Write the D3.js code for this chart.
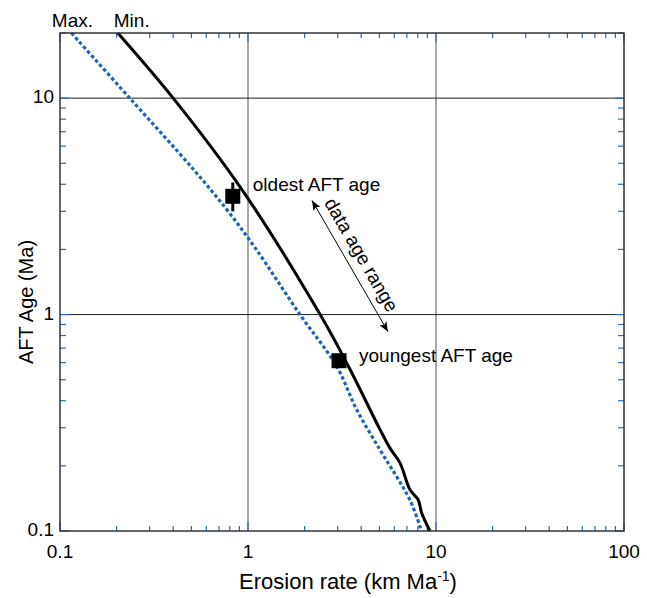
<!DOCTYPE html>
<html>
<head>
<meta charset="utf-8">
<script src="https://cdn.jsdelivr.net/npm/d3@7"></script>
<style>
  body { margin: 0; background: #fff; }
  svg { display: block; font-family: "Liberation Sans", Arial, sans-serif; }
</style>
</head>
<body>
<div id="chart"></div>
<script>
// Min. curve (solid black)
const minRate = [0.203, 0.4, 0.926, 2.42, 3.42, 5.04, 5.69, 6.44, 7.27, 8.05, 8.39, 9.29];
const minAge  = [20, 10, 3.79, 1, 0.577, 0.294, 0.2415, 0.206, 0.155, 0.139, 0.121, 0.1];

// Max. curve (dotted blue)
const maxRate = [0.115, 0.235, 0.512, 0.77, 1.089, 1.89, 2.96, 3.79, 5.04, 6.18, 7.27, 8.22, 8.32];
const maxAge  = [20, 10, 4.69, 3.06, 2.04, 1, 0.577, 0.363, 0.237, 0.178, 0.139, 0.1047, 0.1];

// AFT samples
const sampleNames = ['oldest AFT age', 'youngest AFT age'];
const sampleRate  = [0.83, 3.05];
const sampleAge   = [3.52, 0.612];
const sampleErrLo = [3.0, null];
const sampleErrHi = [4.08, null];

// "data age range" arrow ends
const arrowRate = [2.19, 5.55];
const arrowAge  = [3.37, 0.834];

const xTickValues = [0.1, 1, 10, 100];
const yTickValues = [0.1, 1, 10];
const gridX = [1, 10];
const gridY = [1, 10];

const W = 647, H = 598;
const margin = { top: 33, right: 23, bottom: 67, left: 60 };
const TICK_COLOR = '#2a6db8';
const BLUE = '#1e64b4';

const svg = d3.select('#chart').append('svg')
  .attr('width', W).attr('height', H);

const x = d3.scaleLog().domain([0.1, 100]).range([margin.left, W - margin.right]);
const y = d3.scaleLog().domain([0.1, 20]).range([H - margin.bottom, margin.top]);

const x0 = x.range()[0], x1 = x.range()[1];
const y0 = y.range()[0], y1 = y.range()[1];

// grid lines
svg.append('g').selectAll('line').data(gridX).join('line')
  .attr('x1', d => x(d)).attr('x2', d => x(d))
  .attr('y1', y0).attr('y2', y1)
  .attr('stroke', '#555').attr('stroke-width', 1);
svg.append('g').selectAll('line').data(gridY).join('line')
  .attr('x1', x0).attr('x2', x1)
  .attr('y1', d => y(d)).attr('y2', d => y(d))
  .attr('stroke', '#222').attr('stroke-width', 1);

// ticks, inward on all four sides
const xTicks = x.ticks();
const yTicks = y.ticks();
const isMajor = v => Math.abs(Math.log10(v) - Math.round(Math.log10(v))) < 1e-6;

const tickG = svg.append('g').attr('stroke', TICK_COLOR).attr('stroke-width', 1.2);
xTicks.forEach(v => {
  const len = isMajor(v) ? 9 : 5;
  tickG.append('line').attr('x1', x(v)).attr('x2', x(v)).attr('y1', y0).attr('y2', y0 - len);
  tickG.append('line').attr('x1', x(v)).attr('x2', x(v)).attr('y1', y1).attr('y2', y1 + len);
});
yTicks.forEach(v => {
  const len = isMajor(v) ? 9 : 6;
  tickG.append('line').attr('y1', y(v)).attr('y2', y(v)).attr('x1', x0).attr('x2', x0 + len);
  tickG.append('line').attr('y1', y(v)).attr('y2', y(v)).attr('x1', x1).attr('x2', x1 - len);
});

const line = d3.line().x(d => x(d[0])).y(d => y(d[1])).curve(d3.curveCatmullRom.alpha(0.5));

// Max. curve
svg.append('path')
  .datum(d3.zip(maxRate, maxAge))
  .attr('fill', 'none')
  .attr('stroke', BLUE)
  .attr('stroke-width', 3.2)
  .attr('stroke-dasharray', '3.5,2.5')
  .attr('d', line);

// Min. curve
svg.append('path')
  .datum(d3.zip(minRate, minAge))
  .attr('fill', 'none')
  .attr('stroke', '#000')
  .attr('stroke-width', 3)
  .attr('d', line);

// frame
svg.append('rect')
  .attr('x', x0).attr('y', y1)
  .attr('width', x1 - x0).attr('height', y0 - y1)
  .attr('fill', 'none').attr('stroke', '#333').attr('stroke-width', 1.5);

// samples
sampleNames.forEach((name, i) => {
  const cx = x(sampleRate[i]), cy = y(sampleAge[i]);
  if (sampleErrLo[i] != null) {
    svg.append('line')
      .attr('x1', cx).attr('x2', cx)
      .attr('y1', y(sampleErrLo[i])).attr('y2', y(sampleErrHi[i]))
      .attr('stroke', '#000').attr('stroke-width', 3);
  }
  svg.append('rect')
    .attr('x', cx - 7.5).attr('y', cy - 7.5)
    .attr('width', 15).attr('height', 15)
    .attr('fill', '#000');
  svg.append('text')
    .attr('x', cx + 20).attr('y', cy - (i === 0 ? 5 : -1))
    .attr('font-size', '19px')
    .text(name);
});

// arrow
svg.append('defs').append('marker')
  .attr('id', 'head')
  .attr('viewBox', '0 0 10 8')
  .attr('refX', 10).attr('refY', 4)
  .attr('markerWidth', 10).attr('markerHeight', 8)
  .attr('markerUnits', 'userSpaceOnUse')
  .attr('orient', 'auto-start-reverse')
  .append('path')
  .attr('d', 'M0,0 L10,4 L0,8 L2.5,4 Z')
  .attr('fill', '#000');

const ax0 = x(arrowRate[0]), ay0 = y(arrowAge[0]);
const ax1 = x(arrowRate[1]), ay1 = y(arrowAge[1]);
svg.append('line')
  .attr('x1', ax0).attr('y1', ay0).attr('x2', ax1).attr('y2', ay1)
  .attr('stroke', '#000').attr('stroke-width', 1)
  .attr('marker-start', 'url(#head)')
  .attr('marker-end', 'url(#head)');

// label sits beside the arrow, offset toward the upper right
const ang = Math.atan2(ay1 - ay0, ax1 - ax0);
const ux = Math.cos(ang), uy = Math.sin(ang);
const lx = (ax0 + ax1) / 2 - 4 * ux + 14 * uy;
const ly = (ay0 + ay1) / 2 - 4 * uy - 14 * ux;
svg.append('text')
  .attr('transform', `translate(${lx},${ly}) rotate(${ang * 180 / Math.PI})`)
  .attr('text-anchor', 'middle')
  .attr('dominant-baseline', 'middle')
  .attr('font-size', '19px')
  .text('data age range');

// curve labels
svg.append('text')
  .attr('x', x(maxRate[0]) + 1).attr('y', y1 - 6)
  .attr('text-anchor', 'middle')
  .attr('font-size', '19px')
  .text('Max.');
svg.append('text')
  .attr('x', x(minRate[0]) - 4).attr('y', y1 - 6)
  .attr('font-size', '19px')
  .text('Min.');

// tick labels
svg.append('g').selectAll('text').data(xTickValues).join('text')
  .attr('x', d => x(d)).attr('y', y0 + 27)
  .attr('text-anchor', 'middle')
  .attr('font-size', '19px')
  .text(d => d3.format('~g')(d));
svg.append('g').selectAll('text').data(yTickValues).join('text')
  .attr('x', x0 - 6).attr('y', d => y(d))
  .attr('text-anchor', 'end')
  .attr('dominant-baseline', 'middle')
  .attr('font-size', '19px')
  .text(d => d3.format('~g')(d));

// axis titles
const xt = svg.append('text')
  .attr('x', 348).attr('y', 589)
  .attr('text-anchor', 'middle')
  .attr('font-size', '22px');
xt.append('tspan').text('Erosion rate (km Ma');
xt.append('tspan').attr('font-size', '14px').attr('dy', -8).text('-1');
xt.append('tspan').attr('dy', 8).text(')');

svg.append('text')
  .attr('transform', 'translate(33,302) rotate(-90)')
  .attr('text-anchor', 'middle')
  .attr('font-size', '20px')
  .text('AFT Age (Ma)');
</script>
</body>
</html>
